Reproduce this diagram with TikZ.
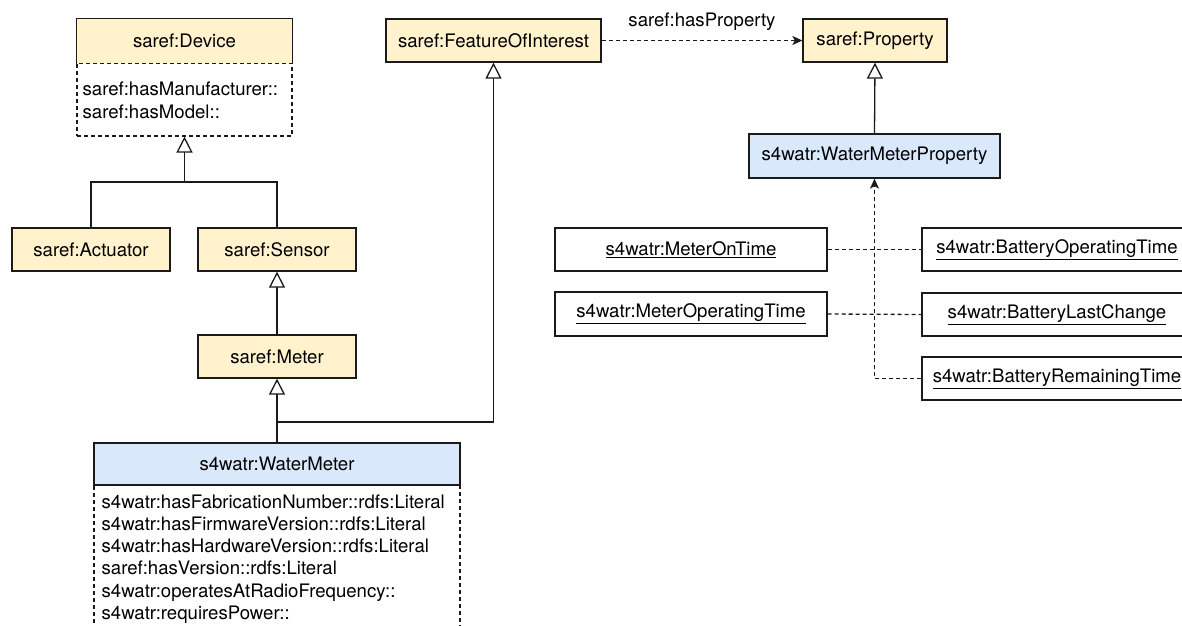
\documentclass[tikz,border=0pt]{standalone}
\usepackage{fontspec}
\setmainfont{TeX Gyre Heros}
\usetikzlibrary{arrows.meta}
\definecolor{yfill}{HTML}{FFF2CC}
\definecolor{bfill}{HTML}{DAE8FC}
\definecolor{ln}{HTML}{1A1A1A}
\begin{document}
\begin{tikzpicture}[x=1pt,y=-1pt,
  font=\fontsize{18.6}{22.3}\selectfont,
  line width=1.3pt, draw=ln,
  box/.style={draw=ln, inner sep=0pt, minimum height=43pt},
  yel/.style={box, fill=yfill},
  blu/.style={box, fill=bfill},
  ind/.style={box, fill=white},
  dsh/.style={dash pattern=on 4pt off 3pt},
  gen/.style={-{Triangle[length=16pt,width=16pt,fill=white]}},
  dep/.style={dsh, -{Stealth[length=10pt,width=9pt,inset=2.5pt]}},
  attr/.style={anchor=base west, inner sep=0pt}]
\clip (0,0) rectangle (1182,625);
\fill[white] (0,0) rectangle (1182,625);

% saref:Device
\node[draw=ln, dsh, line width=1.1pt, minimum width=215pt, minimum height=73pt, inner sep=0pt] (deva) at (184.5,99.5) {};
\node[inner sep=0pt, fill=yfill, minimum width=215pt, minimum height=44pt] (devt) at (184.5,41) {saref:Device};
\draw (devt.south west) |- (devt.north east) -- (devt.south east);
\node[attr] (da1) at (82,95.5) {saref:hasManufacturer::};
\node[attr] (da2) at (82,118) {saref:hasModel::};

\node[yel, minimum width=158pt] (act) at (91,249.5) {saref:Actuator};
\node[yel, minimum width=158pt] (sen) at (277,249.5) {saref:Sensor};
\node[yel, minimum width=158pt] (met) at (277,356.5) {saref:Meter};

% s4watr:WaterMeter
\node[draw=ln, dsh, line width=1.1pt, minimum width=366pt, minimum height=170pt, inner sep=0pt] (wma) at (277,570) {};
\node[blu, minimum width=366pt, minimum height=42pt] (wmt) at (277,464) {s4watr:WaterMeter};
\node[attr] (w1) at (101,508) {s4watr:hasFabricationNumber::rdfs:Literal};
\node[attr] (w2) at (101,530.3) {s4watr:hasFirmwareVersion::rdfs:Literal};
\node[attr] (w3) at (101,552.6) {s4watr:hasHardwareVersion::rdfs:Literal};
\node[attr] (w4) at (101,574.9) {saref:hasVersion::rdfs:Literal};
\node[attr] (w5) at (101,597.2) {s4watr:operatesAtRadioFrequency::};
\node[attr] (w6) at (101,619.5) {s4watr:requiresPower::};

\node[yel, minimum width=215pt] (foi) at (493.5,40.5) {saref:FeatureOfInterest};
\node[yel, minimum width=144pt] (prop) at (875,40.5) {saref:Property};
\node[blu, minimum width=251pt, minimum height=44pt] (wmp) at (874.5,156) {s4watr:WaterMeterProperty};

\node[ind, minimum width=272pt] (mot) at (691,249.5) {\underline{s4watr:MeterOnTime}};
\node[ind, minimum width=272pt, minimum height=44pt] (mop) at (691,314) {\underline{s4watr:MeterOperatingTime}};
\node[ind, minimum width=270pt] (bot) at (1057,249.5) {\underline{s4watr:BatteryOperatingTime}};
\node[ind, minimum width=270pt] (blc) at (1057,314.5) {\underline{s4watr:BatteryLastChange}};
\node[ind, minimum width=270pt] (brt) at (1057,378.5) {\underline{s4watr:BatteryRemainingTime}};

% connectors
\coordinate (j1) at (184.5,182);
\draw (act.north) |- (j1);
\draw (sen.north) |- (j1);
\draw[gen] (j1) -- (deva.south);
\draw[gen] (met.north) -- (sen.south);
\coordinate (j2) at (277,422);
\draw[gen] (wmt.north) -- (met.south);
\draw[gen] (j2) -| (foi.south);
\draw[dep] (foi.east) -- node[midway, yshift=19pt] (hp) {saref:hasProperty} (prop.west);
\draw[gen] (wmp.north) -- (prop.south);
\draw[dsh] (mot.east) -- (bot.west);
\draw[dsh] (mop.east) -- (blc.west);
\draw[dep] (brt.west) -| (wmp.south);
\end{tikzpicture}
\end{document}
